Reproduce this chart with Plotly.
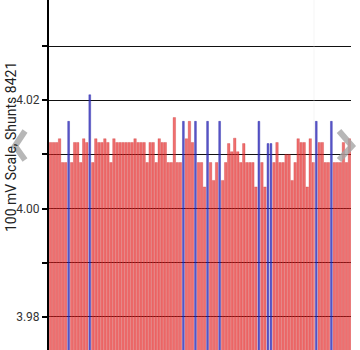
import plotly.graph_objects as go

# Shunt readings (100 mV scale, shunt 8421), one per sample
sample_index = list(range(100))
readings = [
    4.0122, 4.0122, 4.0122, 4.0129, 4.0085, 4.0085, 4.0161, 4.0085, 4.0122, 4.0122,
    4.0085, 4.0129, 4.0122, 4.0210, 4.0085, 4.0129, 4.0122, 4.0122, 4.0129, 4.0122,
    4.0085, 4.0129, 4.0122, 4.0122, 4.0122, 4.0122, 4.0122, 4.0122, 4.0129, 4.0122,
    4.0122, 4.0122, 4.0085, 4.0122, 4.0122, 4.0085, 4.0129, 4.0122, 4.0122, 4.0085,
    4.0085, 4.0168, 4.0085, 4.0085, 4.0161, 4.0129, 4.0161, 4.0122, 4.0161, 4.0085,
    4.0085, 4.0040, 4.0161, 4.0085, 4.0052, 4.0085, 4.0161, 4.0052, 4.0085, 4.0120,
    4.0105, 4.0130, 4.0105, 4.0085, 4.0120, 4.0085, 4.0085, 4.0085, 4.0040, 4.0161,
    4.0085, 4.0040, 4.0120, 4.0120, 4.0085, 4.0122, 4.0085, 4.0085, 4.0100, 4.0100,
    4.0052, 4.0085, 4.0129, 4.0122, 4.0122, 4.0040, 4.0129, 4.0085, 4.0161, 4.0122,
    4.0122, 4.0085, 4.0085, 4.0161, 4.0085, 4.0085, 4.0085, 4.0122, 4.0085, 4.0129,
]
# samples drawn in blue
highlighted = [6, 13, 44, 48, 52, 56, 69, 72, 73, 88, 93]

tick_values = [3.98, 3.99, 4.00, 4.01, 4.02, 4.03]
tick_labels = ["3.98", "", "4.00", "", "4.02", ""]

RED = "rgba(230,36,36,0.66)"
BLUE = "rgba(45,40,185,0.78)"

colors = [BLUE if i in highlighted else RED for i in sample_index]
line_colors = ["rgba(40,40,170,0.8)" if i in highlighted else "rgba(195,25,25,0.5)"
               for i in sample_index]
widths = [0.6 if i in highlighted else 0.82 for i in sample_index]

W, H = 360, 350
ML, MR, MT, MB = 49, 9, 0, 0
PW, PH = W - ML - MR, H - MT - MB


def px(x, y):
    """Pixel position -> paper coordinates."""
    return (x - ML) / PW, 1 - (y - MT) / PH


fig = go.Figure(
    go.Bar(
        x=sample_index,
        y=readings,
        width=widths,
        marker=dict(color=colors, line=dict(color=line_colors, width=0.5)),
        hoverinfo="x+y",
    )
)

# carousel navigation chevrons
def chevron(points):
    pts = [px(*p) for p in points]
    path = "M {} {} L {} {} L {} {}".format(*[c for p in pts for c in p])
    return dict(type="path", xref="paper", yref="paper", path=path,
                line=dict(color="rgba(165,165,165,0.8)", width=6), layer="above")

shapes = [
    chevron([(25, 131), (15, 146), (25, 160)]),
    chevron([(339, 131), (352, 146), (339, 160)]),
    dict(type="line", xref="paper", yref="paper",
         x0=px(314, 0)[0], x1=px(314, 0)[0], y0=0, y1=1,
         line=dict(color="rgba(225,225,225,0.35)", width=1), layer="above"),
]

tx, ty = px(11, 147)
fig.update_layout(
    width=W, height=H,
    margin=dict(l=ML, r=MR, t=MT, b=MB, pad=0),
    paper_bgcolor="white", plot_bgcolor="white",
    showlegend=False,
    bargap=0.18,
    font=dict(family="Roboto, sans-serif", color="#222"),
    xaxis=dict(visible=False, range=[-0.5, 99.5]),
    yaxis=dict(
        range=[3.97391, 4.03849],
        tickvals=tick_values, ticktext=tick_labels,
        ticks="outside", ticklen=5, tickwidth=1.5, tickcolor="black",
        showline=True, linewidth=2, linecolor="black",
        showgrid=True, gridcolor="#111", gridwidth=1,
        zeroline=False,
        tickfont=dict(size=12, color="#333"),
    ),
    shapes=shapes,
    annotations=[dict(
        text="100 mV Scale, Shunts 8421", xref="paper", yref="paper",
        x=tx, y=ty, xanchor="center", yanchor="middle", textangle=-90,
        showarrow=False, font=dict(size=14, color="#222"),
    )],
)

fig.write_html("out.html")
